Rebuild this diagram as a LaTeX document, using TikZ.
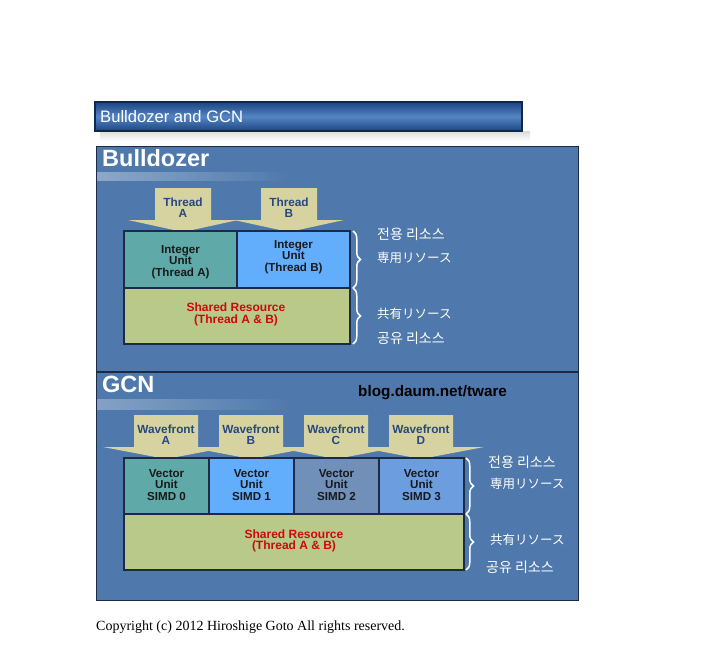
\documentclass[tikz,border=0pt]{standalone}
\usepackage{fontspec}
\setmainfont{Liberation Sans}
\newfontfamily\serifcr{Liberation Serif}
\newfontfamily\krfont{Noto Sans CJK KR}
\newfontfamily\jpfont{Noto Sans CJK JP}
\usetikzlibrary{decorations.pathreplacing}
\definecolor{panel}{HTML}{4F79AC}
\definecolor{paneledge}{HTML}{1B2B45}
\definecolor{arrowfill}{HTML}{D7D3A0}
\definecolor{arrowtext}{HTML}{27477F}
\definecolor{tealbox}{HTML}{5FA9A9}
\definecolor{bluebox}{HTML}{62AEFC}
\definecolor{grayblue}{HTML}{7090BA}
\definecolor{midblue}{HTML}{6C9EDF}
\definecolor{sharedbox}{HTML}{B8C98A}
\definecolor{sharedtext}{HTML}{CC0A0A}
\definecolor{titledark}{HTML}{1C4582}
\definecolor{titlelight}{HTML}{5585C4}
\definecolor{titleedge}{HTML}{0E2850}
\tikzset{
  unitbox/.style={draw=paneledge, line width=1.1pt},
  unittext/.style={font=\bfseries\fontsize{11.6}{11.6}\selectfont, text=black!90, align=center, inner sep=0pt},
  arrowlabel/.style={font=\bfseries\fontsize{11.8}{11.4}\selectfont, text=arrowtext, align=center, inner sep=0pt},
  sharedlabel/.style={font=\bfseries\fontsize{12}{11.6}\selectfont, text=sharedtext, align=center, inner sep=0pt},
  header/.style={font=\bfseries\fontsize{23.5}{24}\selectfont, text=white, anchor=west, inner sep=0pt},
  kr/.style={font=\krfont\fontsize{14}{14}\selectfont, text=white, anchor=west, inner sep=0pt},
  jp/.style={font=\jpfont\fontsize{12.5}{13}\selectfont, text=white, anchor=west, inner sep=0pt},
  bracestyle/.style={draw=white, line width=1.5pt, decorate, decoration={brace, amplitude=7.5pt}},
}
\newcommand\dnarrow[6]{% cx, shafthalf, headhalf, top, headtop, tip
  \fill[arrowfill] ({#1-#2},#4) -- ({#1+#2},#4) -- ({#1+#2},#5) -- ({#1+#3},#5)
    -- (#1,#6) -- ({#1-#3},#5) -- ({#1-#2},#5) -- cycle;}
\begin{document}
\begin{tikzpicture}[x=1pt,y=-1pt]
\useasboundingbox (0,0) rectangle (718,669);
\fill[white] (0,0) rectangle (718,669);

% title bar
\shade[top color=black!14, bottom color=white] (100,131) rectangle (530,141);
\shade[top color=titledark, bottom color=titledark, middle color=titlelight, draw=titleedge, line width=1.5pt]
  (95,102) rectangle (522,131);
\node[font=\fontsize{16.6}{17}\selectfont, text=white, anchor=west, inner sep=0pt] (title) at (100,116.5) {Bulldozer and GCN};

% panels
\fill[panel] (96,146) rectangle (578,600);
\draw[paneledge, line width=1pt] (96,146) rectangle (578,600);
\draw[paneledge, line width=1.2pt] (96,372) -- (578,372);
\shade[left color=white!35!panel, right color=panel] (97,172) rectangle (290,180);
\shade[left color=white!30!panel, right color=panel] (97,399) rectangle (290,409);
\node[header] (hb) at (102,158) {Bulldozer};
\node[header] (hg) at (102,384) {GCN};
\node[font=\bfseries\fontsize{15.3}{16}\selectfont, text=black, anchor=west, inner sep=0pt] (blog) at (358,393) {blog.daum.net/tware};

% Bulldozer arrows
\dnarrow{183}{28}{55}{188}{220}{232}
\dnarrow{289}{28}{55}{188}{220}{232}
\node[arrowlabel] (ta) at (183,208) {Thread\\A};
\node[arrowlabel] (tb) at (289,208) {Thread\\B};

% Bulldozer boxes
\path[unitbox, fill=tealbox] (124,231) rectangle (237,288);
\path[unitbox, fill=bluebox] (237,231) rectangle (350,288);
\path[unitbox, fill=sharedbox] (124,288) rectangle (350,344);
\node[unittext] (ia) at (180.5,262) {Integer\\Unit\\(Thread A)};
\node[unittext] (ib) at (293.5,257) {Integer\\Unit\\(Thread B)};
\node[sharedlabel] (sb) at (236,314.5) {Shared Resource\\(Thread A \& B)};

% Bulldozer braces
\draw[bracestyle] (353,231) -- (353,288);
\draw[bracestyle] (353,288) -- (353,344);
\node[kr] (k1) at (377,234) {전용 리소스};
\node[jp] (j1) at (377,258) {専用リソース};
\node[jp] (j2) at (377,314) {共有リソース};
\node[kr] (k2) at (377,338) {공유 리소스};

% GCN arrows
\dnarrow{166}{32}{63}{415}{447}{459}
\dnarrow{251}{32}{63}{415}{447}{459}
\dnarrow{336}{32}{63}{415}{447}{459}
\dnarrow{421}{32}{63}{415}{447}{459}
\node[arrowlabel] (wa) at (166,435) {Wavefront\\A};
\node[arrowlabel] (wb) at (251,435) {Wavefront\\B};
\node[arrowlabel] (wc) at (336,435) {Wavefront\\C};
\node[arrowlabel] (wd) at (421,435) {Wavefront\\D};

% GCN boxes
\path[unitbox, fill=tealbox] (124,458) rectangle (209,514);
\path[unitbox, fill=bluebox] (209,458) rectangle (294,514);
\path[unitbox, fill=grayblue] (294,458) rectangle (379,514);
\path[unitbox, fill=midblue] (379,458) rectangle (464,514);
\path[unitbox, fill=sharedbox] (124,514) rectangle (464,570);
\node[unittext] (v0) at (166.5,485) {Vector\\Unit\\SIMD 0};
\node[unittext] (v1) at (251.5,485) {Vector\\Unit\\SIMD 1};
\node[unittext] (v2) at (336.5,485) {Vector\\Unit\\SIMD 2};
\node[unittext] (v3) at (421.5,485) {Vector\\Unit\\SIMD 3};
\node[sharedlabel] (sg) at (294,541) {Shared Resource\\(Thread A \& B)};

% GCN braces
\draw[bracestyle] (466,458) -- (466,514);
\draw[bracestyle] (466,514) -- (466,570);
\node[kr] (k3) at (488,462) {전용 리소스};
\node[jp] (j3) at (490,484) {専用リソース};
\node[jp] (j4) at (490,540) {共有リソース};
\node[kr] (k4) at (486,567) {공유 리소스};

% copyright
\node[font=\serifcr\fontsize{14}{14}\selectfont, text=black, anchor=west, inner sep=0pt] (copy) at (96,627) {Copyright (c) 2012 Hiroshige Goto All rights reserved.};
\end{tikzpicture}
\end{document}
